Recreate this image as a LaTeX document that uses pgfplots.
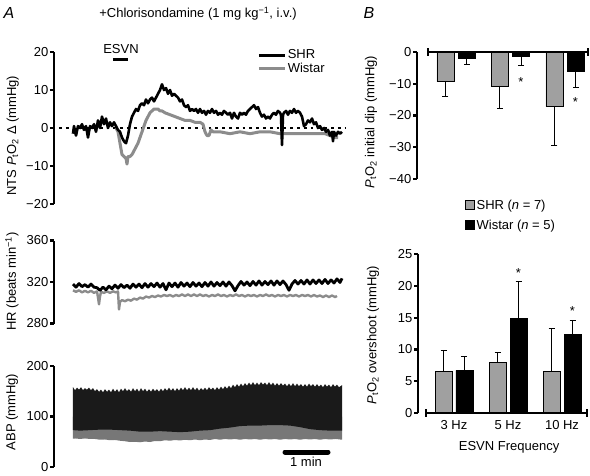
\documentclass[border=0pt]{standalone}
\usepackage{fontspec}
\setmainfont{Liberation Sans}
\usepackage{pgfplots}
\pgfplotsset{compat=1.18}
\definecolor{trgray}{HTML}{8C8C8C}
\definecolor{bargray}{HTML}{A0A0A0}
\definecolor{abpgray}{HTML}{777777}
\definecolor{abpblack}{HTML}{1A1A1A}
\newcommand{\fs}{\fontsize{13}{15}\selectfont}
\newcommand{\PtO}{\textit{P}\textsubscript{t}O\textsubscript{2}}
\pgfplotsset{
  myaxis/.style={scale only axis, anchor=south west,
    axis y line=left, axis x line=none,
    axis line style={-, line width=2.2pt},
    tick align=outside, major tick length=4pt,
    every tick/.append style={black, line width=2.2pt},
    tick label style={font=\fs}, label style={font=\fs},
    yticklabel style={inner sep=1.5pt}},
  error bars/errstyle/.style={error bar style={line width=1pt, black}, error mark options={rotate=90, mark size=3pt, line width=1pt}},
}
\begin{document}
\begin{tikzpicture}[x=1pt,y=1pt]
\useasboundingbox (0,0) rectangle (590,475);

% ---------------- A: NTS PtO2 ----------------
\begin{axis}[myaxis, at={(54pt,271pt)}, width=296pt, height=152pt,
  xmin=54, xmax=350, ymin=-20, ymax=20, clip=false,
  ytick={-20,-10,0,10,20}, yticklabels={−20,−10,0,10,20},
  ylabel={NTS \PtO\ Δ (mmHg)},
  ylabel style={at={(axis description cs:-0.139,0.45)}, anchor=center},
  legend style={at={(axis description cs:0.686,1.025)}, anchor=north west, draw=none, fill=none,
    inner sep=0pt, font=\fs, nodes={inner sep=1.5pt}, row sep=0pt},
  legend image code/.code={\draw[#1] (0pt,0pt) -- (26pt,0pt);},
  legend cell align=left]
\addlegendimage{black, line width=3pt}\addlegendentry{SHR}
\addlegendimage{trgray, line width=3pt}\addlegendentry{ Wistar}
\addplot[black, line width=2.8pt, dash pattern=on 2.8pt off 4pt, forget plot] coordinates {(59,0) (345,0)};
\addplot[trgray, line width=3pt, line join=round, forget plot] coordinates {
(116,0) (118,-1) (120,-4) (122,-7) (124,-7.5) (126,-8) (127,-9.5) (128,-7.5) (130,-7.5) (132,-7)
(134,-6) (136,-5) (138,-4) (140,-2.5) (142,-1) (144,0.5) (146,2) (148,3) (150,4) (152,4.5)
(154,5) (156,5) (158,5) (160,4.5) (162,4.5) (165,4) (170,3.5) (175,3) (180,2.5) (185,2)
(190,2) (195,1.5) (200,1.5) (203,1) (205,-1) (207,-2) (209,-2) (211,-0.5) (213,-1) (220,-1)
(230,-1.5) (240,-1) (250,-1.5) (260,-1) (270,-1) (280,-1.5) (290,-1.5) (300,-1.5) (310,-1.5)
(320,-1.5) (325,-1.5) (330,-2) (335,-2.5) (338,-2.5)};
\addplot[black, line width=2.6pt, line join=round, forget plot] coordinates {
(73,-1.5) (74,0.5) (76,-2) (78,0.5) (80,0) (82,1) (84,-0.5) (86,0.5) (88,-2.5) (90,0.5)
(92,0) (94,1) (96,-1) (98,2) (100,0) (102,3) (104,1) (106,2.5) (108,0) (110,1.5)
(112,0.5) (114,1.5) (116,0.5) (118,-0.5) (120,-1) (122,-2.5) (124,-3.5) (126,-4) (128,-2) (130,1)
(132,3) (134,4) (136,5) (138,4.5) (140,6) (142,6.5) (144,6) (146,7.5) (148,6.5) (150,7.5)
(152,8) (154,7) (156,8) (158,9) (160,10) (162,11.5) (164,10) (166,10.5) (168,9) (170,10)
(172,8.5) (174,9) (176,8.5) (178,8) (180,7) (182,7.5) (184,6) (186,5.5) (188,6) (190,4.5)
(192,5) (194,4.5) (196,5) (198,4) (200,5) (202,4) (204,4.5) (206,3.5) (208,4.5) (210,4)
(212,5) (214,4) (216,4.5) (218,3.5) (220,4) (222,3.5) (224,4.5) (226,4) (228,3.5) (230,4)
(232,2.5) (234,4) (236,3) (238,2.5) (240,4) (242,3.5) (244,4) (246,3.5) (248,4.5) (250,5)
(252,5.5) (254,6) (256,5) (258,5.5) (260,4) (262,3) (264,3.5) (266,2.5) (268,3) (270,2.5)
(272,3.5) (274,4) (276,3.5) (278,4.5) (280,4) (281,3.5) (282,-4.5) (283,3.5) (284,4) (286,4.5)
(288,3.5) (290,4.5) (292,4) (294,5) (296,4) (298,4.5) (300,4) (302,3) (304,0.5) (306,1)
(308,2) (310,1.5) (312,2.5) (314,1) (316,1.5) (318,0) (320,0.5) (322,-0.5) (324,0) (326,-1)
(328,-0.5) (330,-2) (332,-1) (333,-3.5) (334,-1) (336,-2) (338,-1) (340,-1.5) (342,-1)};
% ESVN stimulus marker
\addplot[black, line width=3pt, forget plot] coordinates {(113,17.9) (128,17.9)};
\node[anchor=south, inner sep=0pt, font=\fs] at (axis cs:121,19.4) {ESVN};
\end{axis}

% ---------------- A: HR ----------------
\begin{axis}[myaxis, at={(54pt,151.5pt)}, width=296pt, height=83pt,
  xmin=54, xmax=350, ymin=280, ymax=360,
  ytick={280,320,360}, yticklabels={280,320,360},
  ylabel={HR (beats min\textsuperscript{−1})},
  ylabel style={at={(axis description cs:-0.142,0.506)}, anchor=center}]
\addplot[trgray, line width=2.4pt, line join=round] coordinates {
(73,312) (76,310.5) (79,312) (82,310) (85,311.5) (88,310) (91,311.5) (94,309.5) (97,311) (98,305)
(99,298.5) (100,306) (101,310.5) (104,309.5) (107,311) (110,309.5) (113,311) (116,310) (118,311) (119,293.5)
(120,301) (122,302.5) (125,301.5) (128,303) (131,302) (134,304) (137,303) (140,305) (143,304) (146,306)
(149,305) (152,306.5) (155,305.5) (158,307) (161,306) (164,307.5) (167,306.5) (170,307.5) (173,306) (176,307.5)
(179,306.5) (182,308) (185,306.5) (188,308) (191,306.5) (194,308) (197,306.5) (200,308) (203,306.5) (206,307.5)
(209,306) (212,307.5) (215,306.5) (218,308) (221,306.5) (224,307.5) (227,306) (230,307.5) (233,306.5) (236,308)
(239,306.5) (242,307.5) (245,306) (248,307.5) (251,306.5) (254,307.5) (257,306) (260,307.5) (263,306.5) (266,308)
(269,306.5) (272,307.5) (275,306) (278,307.5) (281,306.5) (284,307.5) (287,306) (290,307.5) (293,306.5) (296,307.5)
(299,306) (302,307.5) (305,306.5) (308,307.5) (311,306) (314,307.5) (317,306) (320,307) (323,305.5) (326,307)
(329,305.5) (332,307) (335,305.5) (337,306.5)};
\addplot[black, line width=2.8pt, line join=round] coordinates {
(73,318) (76,315) (79,318.5) (82,315.5) (85,317.5) (88,315) (91,318) (94,315) (97,314.5) (100,312)
(103,315) (106,312.5) (109,316) (112,313.5) (115,317) (118,314) (121,317.5) (124,314.5) (127,317) (130,314)
(133,318) (136,315) (139,318) (142,314.5) (145,318.5) (148,315) (151,318.5) (154,315.5) (157,319) (160,315)
(163,318.5) (166,312.5) (169,319) (172,315.5) (175,319) (178,315) (181,319.5) (184,316) (187,319) (190,315.5)
(193,319.5) (196,316) (199,319) (202,315.5) (205,319.5) (208,316) (211,320) (214,316) (217,319.5) (220,316.5)
(223,320) (226,316) (229,320) (232,316.5) (235,311.5) (238,316.5) (241,320.5) (244,317) (247,320) (250,316.5)
(253,320.5) (256,317) (259,321) (262,317) (265,320.5) (268,317.5) (271,321) (274,317) (277,321) (280,317.5)
(283,321) (286,317.5) (289,312) (292,318) (295,321.5) (298,318) (301,321.5) (304,318) (307,322) (310,318)
(313,322) (316,318.5) (319,322) (322,318.5) (325,322.5) (328,318.5) (331,322) (334,319) (337,323) (340,319.5)
(342,323.5)};
\end{axis}

% ---------------- A: ABP ----------------
\begin{axis}[myaxis, at={(54pt,8pt)}, width=296pt, height=101pt,
  xmin=54, xmax=350, ymin=0, ymax=200,
  ytick={0,100,200}, yticklabels={0,100,200},
  ylabel={ABP (mmHg)},
  ylabel style={at={(axis description cs:-0.142,0.545)}, anchor=center}]
\addplot[fill=abpgray, draw=none] coordinates {
(73,100) (342,100) (342,54) (336,55.5) (330,54.5) (325,55.5) (320,54) (315,55.5) (310,54.5) (305,55.5)
(300,54) (295,55.5) (290,54.5) (285,55.5) (280,54) (275,55.5) (270,54.5) (265,55.5) (260,54) (255,55.5)
(250,54.5) (245,55.5) (240,54) (235,55.5) (230,54.5) (225,55.5) (220,54) (215,55.5) (210,53.5) (205,54.5)
(200,53) (195,54.5) (190,53) (185,54) (180,52.5) (175,53.5) (170,52) (165,53) (160,51) (155,51.5)
(150,49.5) (145,50.5) (140,49) (135,50) (130,49.5) (125,51) (120,52) (115,53.5) (110,53) (105,54.5)
(100,54) (95,55.5) (90,55.5) (85,56.5) (80,55.5) (76,56.5) (73,56)};
\addplot[fill=abpblack, draw=none] coordinates {
(73,158) (75,152) (77,157) (79,153) (81,158) (83,152) (85,156) (87,153) (89,157) (91,152)
(93,156) (95,150) (97,154) (99,149) (101,153) (103,148) (105,154) (107,149) (109,153) (111,148)
(113,155) (115,149) (117,154) (119,148) (121,155) (123,150) (125,156) (127,150) (129,154) (131,149)
(133,156) (135,150) (137,155) (139,149) (141,156) (143,150) (145,155) (147,149) (149,154) (151,149)
(153,155) (155,150) (157,154) (159,149) (161,155) (163,150) (165,156) (167,151) (169,157) (171,151)
(173,156) (175,150) (177,156) (179,151) (181,157) (183,152) (185,158) (187,152) (189,157) (191,152)
(193,158) (195,152) (197,157) (199,151) (201,156) (203,152) (205,157) (207,152) (209,158) (211,153)
(213,157) (215,152) (217,158) (219,153) (221,159) (223,154) (225,160) (227,155) (229,161) (231,156)
(233,163) (235,158) (237,164) (239,159) (241,165) (243,160) (245,166) (247,161) (249,167) (251,162)
(253,168) (255,162) (257,167) (259,162) (261,168) (263,163) (265,167) (267,162) (269,168) (271,162)
(273,167) (275,161) (277,166) (279,161) (281,166) (283,161) (285,165) (287,160) (289,165) (291,160)
(293,166) (295,160) (297,165) (299,160) (301,164) (303,159) (305,164) (307,159) (309,165) (311,160)
(313,164) (315,159) (317,164) (319,159) (321,163) (323,158) (325,164) (327,159) (329,163) (331,158)
(333,164) (335,159) (337,163) (339,158) (342,162)
(342,72) (330,72) (320,73) (310,75) (300,79) (290,82) (280,83) (270,83) (260,82) (250,82)
(240,81) (230,78) (220,76) (210,73) (200,72) (190,70) (180,69) (170,70) (160,71) (150,70)
(140,70) (130,72) (120,73) (110,74) (100,74) (90,73) (80,72) (73,73)};
% 1 min scale bar
\addplot[black, line width=5pt, line cap=round] coordinates {(285,29.7) (328,29.7)};
\node[font=\fs, inner sep=0pt] at (axis cs:306,9.5) {1 min};
\end{axis}

% ---------------- B: initial dip ----------------
\begin{axis}[myaxis, at={(417pt,296pt)}, width=173pt, height=127pt,
  xmin=-0.716, xmax=2.459, ymin=-40, ymax=0, clip=false,
  ytick={-40,-30,-20,-10,0}, yticklabels={−40,−30,−20,−10,0},
  ylabel={\PtO\ initial dip (mmHg)},
  ylabel style={at={(axis description cs:-0.266,0.449)}, anchor=center},
  legend style={at={(axis description cs:0.278,-0.15)}, anchor=north west, draw=none, fill=none,
    inner sep=0pt, font=\fs, nodes={inner sep=1.5pt}, row sep=6pt},
  legend cell align=left]
\addplot[ybar, bar width=17pt, bar shift=0pt, fill=bargray, draw=black, line width=0.8pt,
  legend image code/.code={\draw[fill=bargray, draw=black, line width=0.8pt] (0pt,-4.5pt) rectangle (9pt,4.5pt);},
  error bars/.cd, y dir=minus, y explicit, errstyle]
  coordinates {(-0.193,-9.35) -= (0,4.55) (0.807,-10.7) -= (0,7.0) (1.807,-17.2) -= (0,12.4)};
\addlegendentry{SHR (\textit{n} = 7)}
\addplot[ybar, bar width=17pt, bar shift=0pt, fill=black, draw=black, line width=0.8pt,
  legend image code/.code={\draw[fill=black, draw=black, line width=0.8pt] (0pt,-4.5pt) rectangle (9pt,4.5pt);},
  error bars/.cd, y dir=minus, y explicit, errstyle]
  coordinates {(0.193,-2.0) -= (0,1.9) (1.193,-1.5) -= (0,2.8) (2.193,-6.2) -= (0,4.9)};
\addlegendentry{Wistar (\textit{n} = 5)}
\addplot[black, line width=2.2pt, mark=|, mark size=4pt, mark options={line width=1.5pt}, forget plot]
  coordinates {(-0.514,0) (2.42,0)};
\node[font=\fs, inner sep=0pt] at (axis cs:1.193,-9.6) {*};
\node[font=\fs, inner sep=0pt] at (axis cs:2.193,-15.9) {*};
\end{axis}

% ---------------- B: overshoot ----------------
\begin{axis}[myaxis, at={(418pt,62pt)}, width=172pt, height=159pt,
  xmin=-0.667, xmax=2.518, ymin=0, ymax=25, clip=false,
  ytick={0,5,10,15,20,25}, yticklabels={0,5,10,15,20,25},
  ylabel={\PtO\ overshoot (mmHg)},
  ylabel style={at={(axis description cs:-0.262,0.49)}, anchor=center}]
\addplot[ybar, bar width=17pt, bar shift=0pt, fill=bargray, draw=black, line width=0.8pt,
  error bars/.cd, y dir=plus, y explicit, errstyle]
  coordinates {(-0.194,6.6) += (0,3.3) (0.806,7.9) += (0,1.6) (1.806,6.5) += (0,6.8)};
\addplot[ybar, bar width=17pt, bar shift=0pt, fill=black, draw=black, line width=0.8pt,
  error bars/.cd, y dir=plus, y explicit, errstyle]
  coordinates {(0.194,6.7) += (0,2.2) (1.194,14.8) += (0,5.9) (2.194,12.3) += (0,2.3)};
\addplot[black, line width=2.2pt, mark=|, mark size=4pt, mark options={line width=1.5pt}]
  coordinates {(-0.519,0) (2.463,0)};
\node[font=\fs, inner sep=0pt] at (axis cs:1.194,22.0) {*};
\node[font=\fs, inner sep=0pt] at (axis cs:2.194,16.0) {*};
\node[font=\fs, inner sep=0pt, anchor=north] at (axis cs:0,-1.1) {3 Hz};
\node[font=\fs, inner sep=0pt, anchor=north] at (axis cs:1,-1.1) {5 Hz};
\node[font=\fs, inner sep=0pt, anchor=north] at (axis cs:2,-1.1) {10 Hz};
\node[font=\fs, inner sep=0pt] at (axis cs:1.02,-5.4) {ESVN Frequency};
\end{axis}

% ---------------- titles ----------------
\node[font=\fontsize{16}{18}\selectfont\itshape, inner sep=0pt] at (9,462) {A};
\node[font=\fontsize{16}{18}\selectfont\itshape, inner sep=0pt] at (369,462) {B};
\node[font=\fs, inner sep=0pt] at (198,461) {+Chlorisondamine (1 mg kg\textsuperscript{−1}, i.v.)};
\end{tikzpicture}
\end{document}
